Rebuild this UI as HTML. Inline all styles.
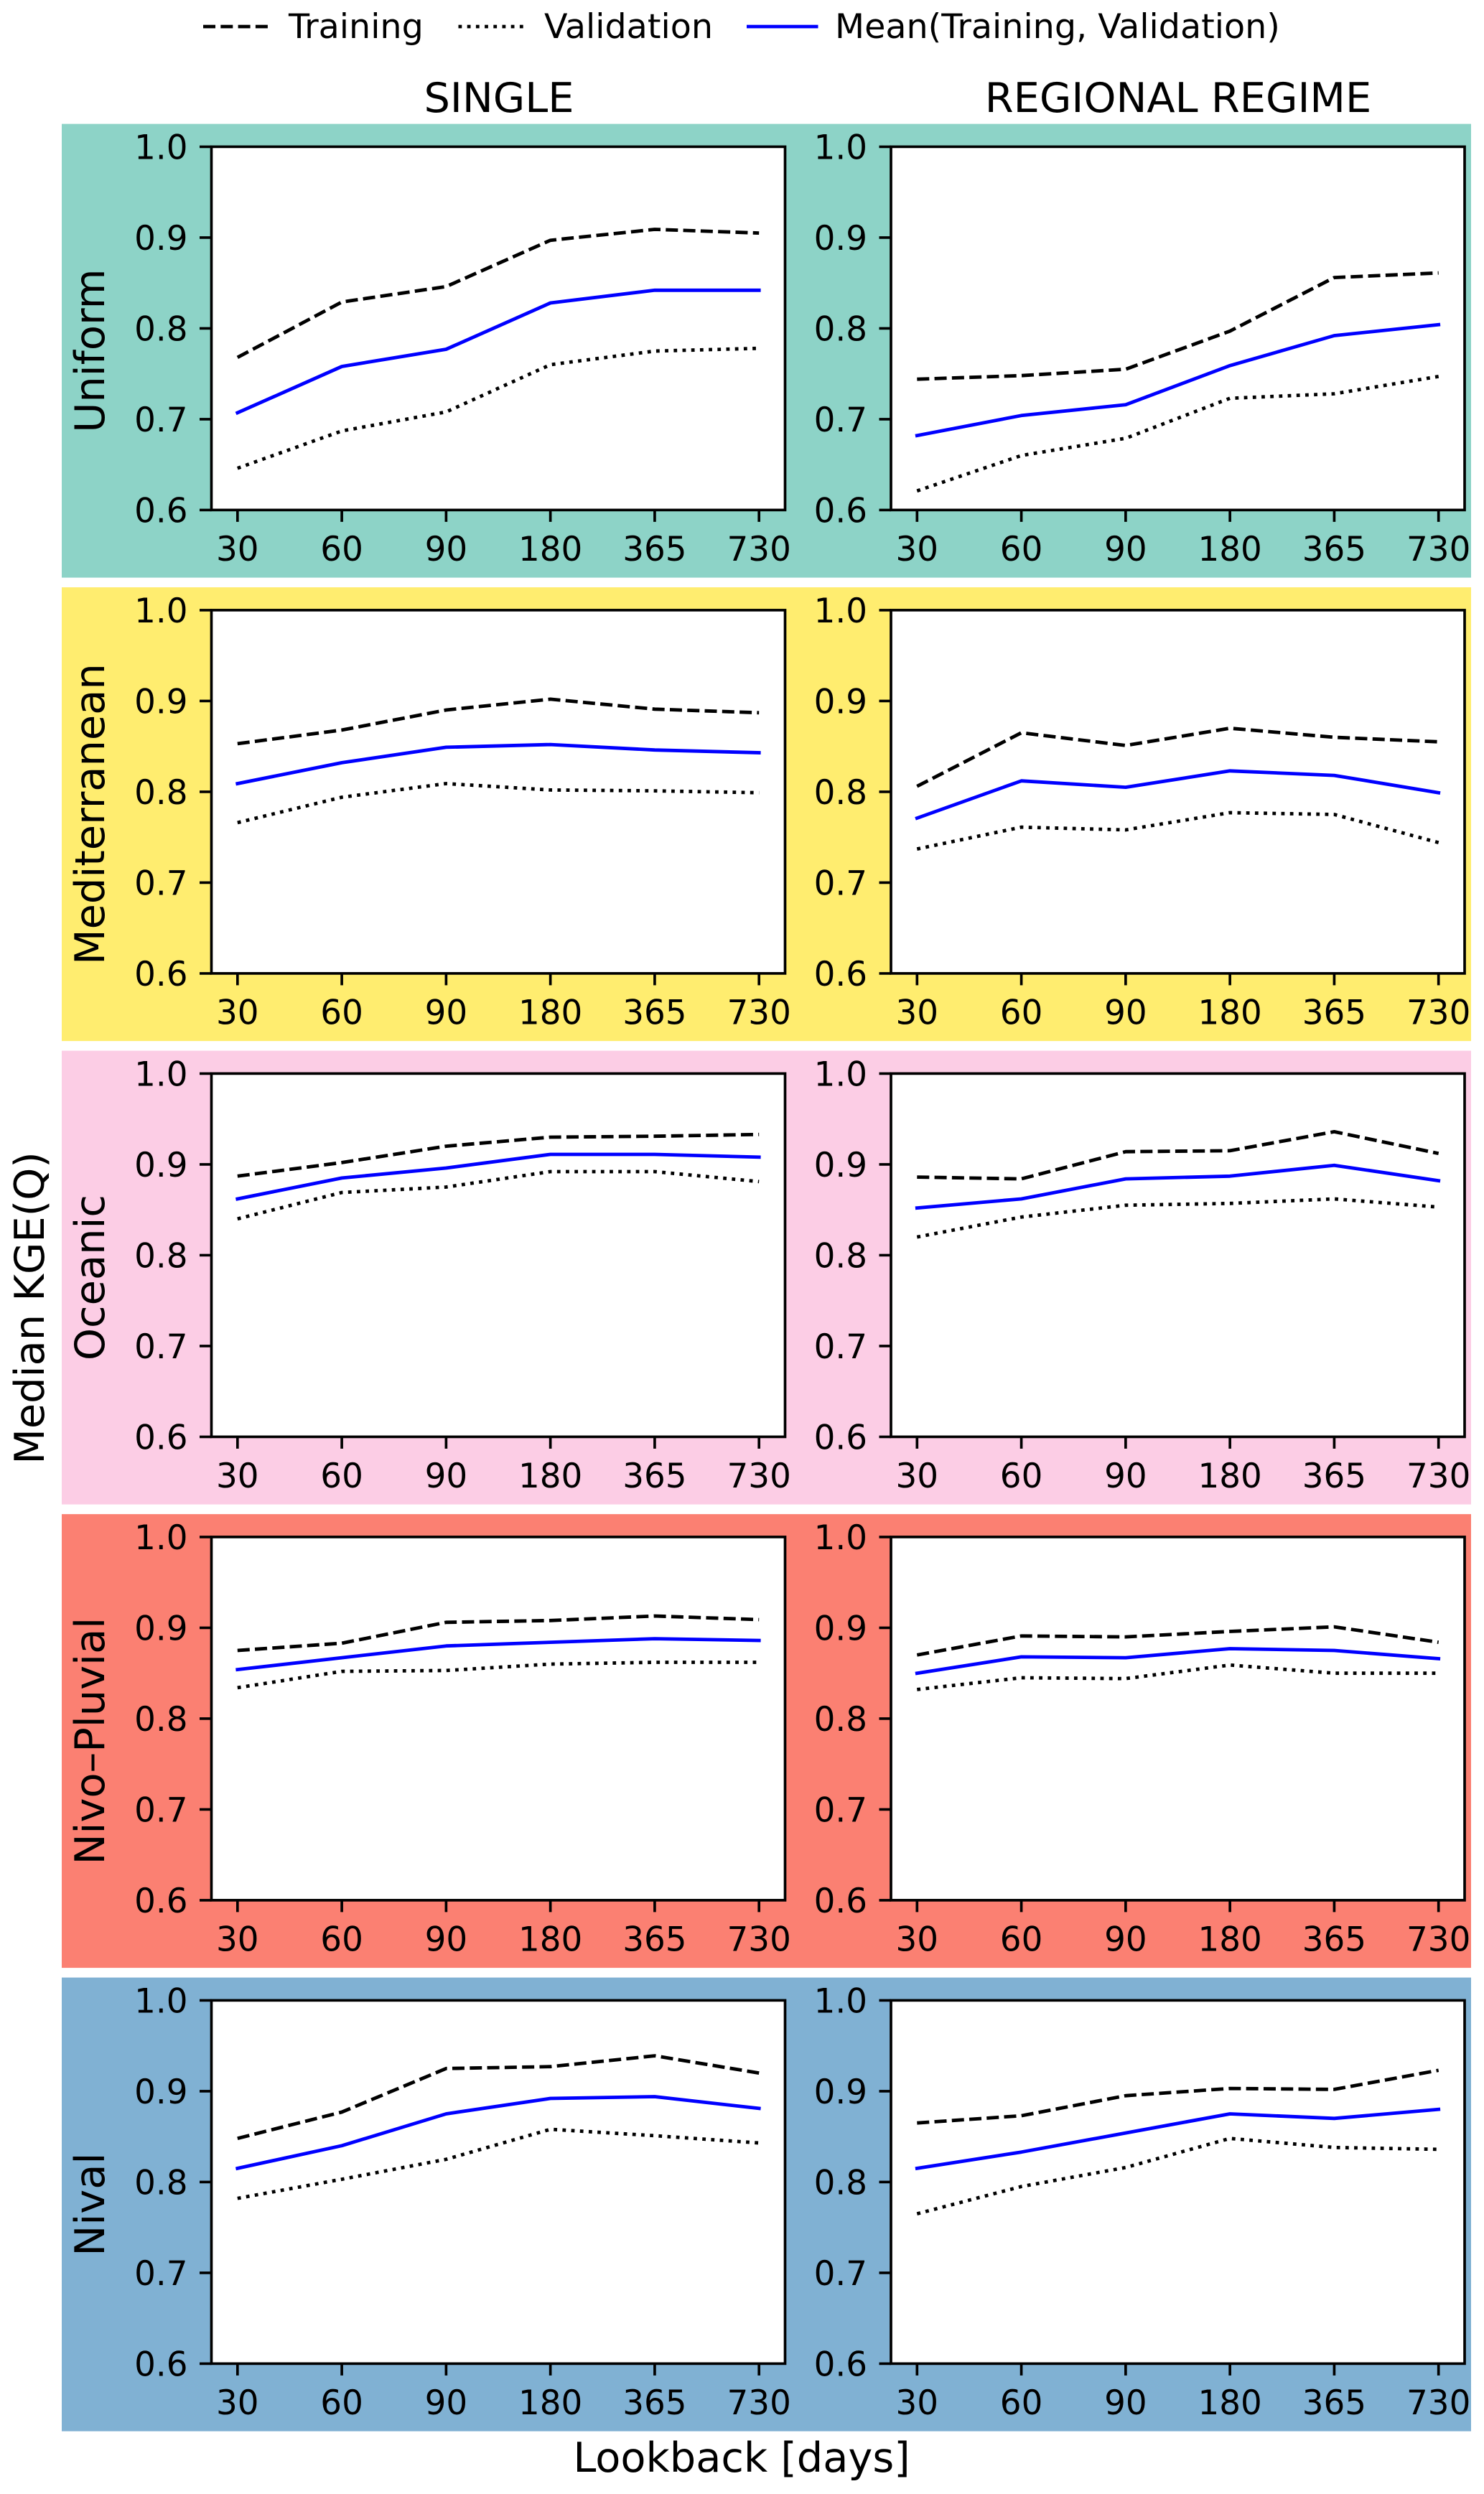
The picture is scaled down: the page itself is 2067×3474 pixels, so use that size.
<!DOCTYPE html>
<html lang="en">
<head>
<meta charset="utf-8">
<title>Median KGE(Q) by lookback</title>
<style>
html,body{margin:0;padding:0;background:#fff;}
svg{display:block;}
text{font-family:"DejaVu Sans","Liberation Sans",sans-serif;fill:#000;}
.tick-label{font-size:46.8px;}
.legend-label{font-size:47.6px;}
.big-label{font-size:57.4px;}
.band-uniform{fill:#8dd3c7;}
.band-mediterranean{fill:#ffed6f;}
.band-oceanic{fill:#fccde5;}
.band-nivo-pluvial{fill:#fb8072;}
.band-nival{fill:#80b1d3;}
.training{fill:none;stroke:#000;stroke-width:4.8;stroke-dasharray:17 7.3;stroke-linejoin:round;stroke-linecap:butt;}
.validation{fill:none;stroke:#000;stroke-width:4.8;stroke-dasharray:4.8 7.4;stroke-linejoin:round;stroke-linecap:butt;}
.mean{fill:none;stroke:#0000ff;stroke-width:4.8;stroke-linejoin:round;stroke-linecap:square;}
.tick{stroke:#000;stroke-width:3.67;}
.spine{fill:none;stroke:#000;stroke-width:3.67;stroke-linejoin:miter;}
</style>
</head>
<body>
<svg id="figure" xmlns="http://www.w3.org/2000/svg" width="2067" height="3474" viewBox="0 0 2067 3474">
  <rect x="0" y="0" width="2067" height="3474" fill="#fff"/>
  <g id="panels"></g>
  <g>
    <g>
      <line class="training" x1="283" y1="37" x2="377.5" y2="37"/>
      <text class="legend-label" x="402" y="53">Training</text>
    </g>
    <g>
      <line class="validation" x1="638.5" y1="37" x2="733" y2="37"/>
      <text class="legend-label" x="758" y="53">Validation</text>
    </g>
    <g>
      <line class="mean" style="stroke-linecap:butt" x1="1040" y1="37" x2="1139.5" y2="37"/>
      <text class="legend-label" x="1163" y="53">Mean(Training, Validation)</text>
    </g>
  </g>
  <text class="big-label" x="695" y="156" text-anchor="middle">SINGLE</text>
  <text class="big-label" x="1641" y="156" text-anchor="middle">REGIONAL REGIME</text>
  <text class="big-label" transform="translate(61 1822) rotate(-90)" text-anchor="middle">Median KGE(Q)</text>
  <text class="big-label" x="1033" y="3443" text-anchor="middle">Lookback [days]</text>
</svg>
<script>
const lookbackDays = ["30", "60", "90", "180", "365", "730"];
const yTickValues = [0.6, 0.7, 0.8, 0.9, 1.0];
const regimeNames = ["Uniform", "Mediterranean", "Oceanic", "Nivo–Pluvial", "Nival"];

const uniformSingleTraining = [0.768, 0.829, 0.846, 0.897, 0.909, 0.905];
const uniformSingleValidation = [0.646, 0.687, 0.708, 0.760, 0.775, 0.778];
const uniformSingleMean = [0.707, 0.758, 0.777, 0.828, 0.842, 0.842];
const uniformRegionalTraining = [0.744, 0.748, 0.755, 0.797, 0.856, 0.861];
const uniformRegionalValidation = [0.621, 0.660, 0.679, 0.723, 0.728, 0.747];
const uniformRegionalMean = [0.682, 0.704, 0.716, 0.759, 0.792, 0.804];

const mediterraneanSingleTraining = [0.853, 0.868, 0.890, 0.902, 0.891, 0.887];
const mediterraneanSingleValidation = [0.766, 0.794, 0.809, 0.802, 0.801, 0.799];
const mediterraneanSingleMean = [0.809, 0.832, 0.849, 0.852, 0.846, 0.843];
const mediterraneanRegionalTraining = [0.806, 0.865, 0.851, 0.870, 0.860, 0.855];
const mediterraneanRegionalValidation = [0.737, 0.761, 0.758, 0.777, 0.775, 0.744];
const mediterraneanRegionalMean = [0.771, 0.812, 0.805, 0.823, 0.818, 0.799];

const oceanicSingleTraining = [0.887, 0.902, 0.920, 0.930, 0.931, 0.933];
const oceanicSingleValidation = [0.840, 0.869, 0.875, 0.892, 0.892, 0.881];
const oceanicSingleMean = [0.862, 0.885, 0.896, 0.911, 0.911, 0.908];
const oceanicRegionalTraining = [0.886, 0.884, 0.914, 0.915, 0.936, 0.912];
const oceanicRegionalValidation = [0.820, 0.842, 0.855, 0.857, 0.862, 0.853];
const oceanicRegionalMean = [0.852, 0.862, 0.884, 0.887, 0.899, 0.882];

const nivoSingleTraining = [0.875, 0.883, 0.906, 0.908, 0.913, 0.909];
const nivoSingleValidation = [0.834, 0.852, 0.853, 0.860, 0.862, 0.862];
const nivoSingleMean = [0.854, 0.867, 0.880, 0.884, 0.888, 0.886];
const nivoRegionalTraining = [0.870, 0.891, 0.890, 0.896, 0.901, 0.884];
const nivoRegionalValidation = [0.832, 0.845, 0.844, 0.859, 0.850, 0.850];
const nivoRegionalMean = [0.850, 0.868, 0.867, 0.877, 0.875, 0.866];

const nivalSingleTraining = [0.848, 0.877, 0.925, 0.927, 0.939, 0.920];
const nivalSingleValidation = [0.782, 0.803, 0.825, 0.858, 0.851, 0.843];
const nivalSingleMean = [0.815, 0.840, 0.875, 0.892, 0.894, 0.881];
const nivalRegionalTraining = [0.865, 0.873, 0.895, 0.903, 0.902, 0.923];
const nivalRegionalValidation = [0.765, 0.795, 0.816, 0.848, 0.838, 0.836];
const nivalRegionalMean = [0.815, 0.833, 0.854, 0.875, 0.870, 0.880];

const seriesByRegime = [
  [[uniformSingleTraining, uniformSingleValidation, uniformSingleMean],
   [uniformRegionalTraining, uniformRegionalValidation, uniformRegionalMean]],
  [[mediterraneanSingleTraining, mediterraneanSingleValidation, mediterraneanSingleMean],
   [mediterraneanRegionalTraining, mediterraneanRegionalValidation, mediterraneanRegionalMean]],
  [[oceanicSingleTraining, oceanicSingleValidation, oceanicSingleMean],
   [oceanicRegionalTraining, oceanicRegionalValidation, oceanicRegionalMean]],
  [[nivoSingleTraining, nivoSingleValidation, nivoSingleMean],
   [nivoRegionalTraining, nivoRegionalValidation, nivoRegionalMean]],
  [[nivalSingleTraining, nivalSingleValidation, nivalSingleMean],
   [nivalRegionalTraining, nivalRegionalValidation, nivalRegionalMean]]
];

const SVG_NS = "http://www.w3.org/2000/svg";
const root = document.getElementById("panels");
const seriesKeys = ["training", "validation", "mean"];
const columnKeys = ["single", "regional"];
const bandLeft = 86, bandWidth = 1963, bandTop = 172.6, rowStep = 645.5, bandHeight = 632;
const axesTop = 204.4, axesHeight = 506, axesWidth = 799;
const axesLefts = [294.5, 1241];
const yMin = 0.6, yMax = 1.0;

function make(tag, attrs, parent) {
  const node = document.createElementNS(SVG_NS, tag);
  for (const key in attrs) node.setAttribute(key, attrs[key]);
  parent.appendChild(node);
  return node;
}
function xScale(index, left) {
  const margin = axesWidth * 0.05 / 1.1;
  return left + margin + index * (axesWidth - 2 * margin) / (lookbackDays.length - 1);
}
function yScale(value, top) {
  return top + (yMax - value) / (yMax - yMin) * axesHeight;
}

regimeNames.forEach(function (regime, r) {
  const slug = regime.toLowerCase().replace("–", "-");
  const top = axesTop + r * rowStep;
  const bTop = bandTop + r * rowStep;

  const band = make("rect", {x: bandLeft, y: bTop, width: bandWidth, height: bandHeight, "class": "band-" + slug}, root);
  
  

  const rowLabel = make("text", {"class": "big-label", "text-anchor": "middle", transform: "translate(145 " + (bTop + bandHeight / 2) + ") rotate(-90)"}, root);
  rowLabel.textContent = regime;
  
  

  axesLefts.forEach(function (left, c) {
    const group = make("g", {}, root);
    
    

    const plot = make("rect", {x: left, y: top, width: axesWidth, height: axesHeight, fill: "#fff"}, group);
    
    

    seriesByRegime[r][c].forEach(function (values, s) {
      const pts = values.map(function (v, i) {
        return xScale(i, left).toFixed(1) + "," + yScale(v, top).toFixed(1);
      }).join(" ");
      const line = make("polyline", {points: pts, "class": seriesKeys[s]}, group);
      
      
    });

    yTickValues.forEach(function (v) {
      const y = yScale(v, top);
      const tick = make("line", {x1: left - 16.5, x2: left, y1: y, y2: y, "class": "tick"}, group);
      
      
      const label = make("text", {x: left - 33, y: y + 17, "class": "tick-label", "text-anchor": "end"}, group);
      label.textContent = v.toFixed(1);
      
      
    });

    lookbackDays.forEach(function (day, i) {
      const x = xScale(i, left);
      const bottom = top + axesHeight;
      const tick = make("line", {x1: x, x2: x, y1: bottom, y2: bottom + 16.5, "class": "tick"}, group);
      
      
      const label = make("text", {x: x, y: bottom + 70.6, "class": "tick-label", "text-anchor": "middle"}, group);
      label.textContent = day;
      
      
    });

    const spine = make("rect", {x: left, y: top, width: axesWidth, height: axesHeight, "class": "spine"}, group);
    
    
  });
});
</script>
</body>
</html>
